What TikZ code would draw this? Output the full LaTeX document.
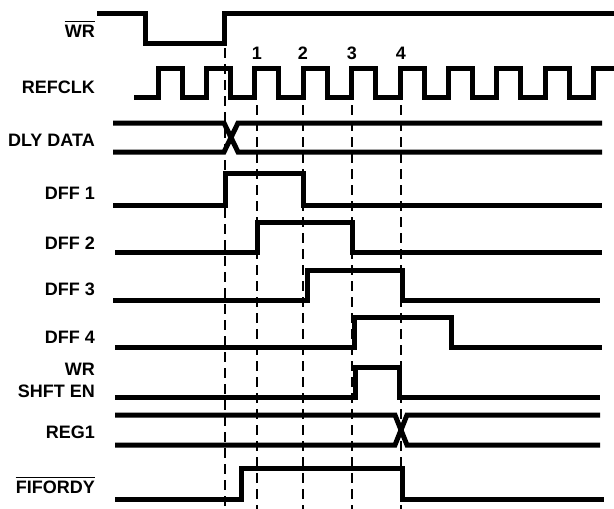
\documentclass[tikz,border=0pt]{standalone}
\usepackage{fontspec}
\setmainfont{Liberation Sans}
\begin{document}
\begin{tikzpicture}[x=1pt,y=-1pt,
  sig/.style={line width=5pt, line join=miter, line cap=butt},
  guide/.style={line width=2.6pt, dash pattern=on 10pt off 6pt},
  lbl/.style={anchor=east, inner sep=0pt, font=\fontsize{18}{21}\selectfont\bfseries},
  num/.style={inner sep=0pt, font=\fontsize{18}{21}\selectfont\bfseries},
  bar/.style={line width=1.5pt}]
\useasboundingbox[fill=white] (0,0) rectangle (614,509);
% guide lines
\draw[guide] (225,48) -- (225,509);
\foreach \gx in {257,303,352,401} \draw[guide] (\gx,105) -- (\gx,509);
% numbers
\node[num] (n1) at (257,53) {1};
\node[num] (n2) at (303,53) {2};
\node[num] (n3) at (352,53) {3};
\node[num] (n4) at (401,53) {4};
% labels
\node[lbl] (wr) at (95,31) {WR};
\draw[bar] ([yshift=3pt]wr.north west) -- ([yshift=3pt]wr.north east);
\node[lbl] (refclk) at (95,87) {REFCLK};
\node[lbl] (dly) at (95,140) {DLY DATA};
\node[lbl] (dff1) at (95,193) {DFF 1};
\node[lbl] (dff2) at (95,243) {DFF 2};
\node[lbl] (dff3) at (95,289) {DFF 3};
\node[lbl] (dff4) at (95,337) {DFF 4};
\node[lbl] (wr2) at (95,369) {WR};
\node[lbl] (shft) at (95,391) {SHFT EN};
\node[lbl] (reg1) at (95,432) {REG1};
\node[lbl] (fifordy) at (95,487) {FIFORDY};
\draw[bar] ([yshift=3pt]fifordy.north west) -- ([yshift=3pt]fifordy.north east);
% WR bar
\draw[sig] (97,13) -- (145,13) -- (145,43) -- (224,43) -- (224,13) -- (614,13);
% REFCLK
\draw[sig] (134,97) foreach \k in {0,...,8} { -- ({158+48.4*\k},97) -- ++(0,-29) -- ++(24,0) -- ++(0,29) } -- (593.6,97) -- (593.6,68) -- (614,68);
% DLY DATA
\draw[sig] (113,123) -- (224,123) -- (238,152) -- (602,152);
\draw[sig] (113,152) -- (224,152) -- (238,123) -- (602,123);
% DFF 1..4
\draw[sig] (113,205) -- (225,205) -- (225,173) -- (303,173) -- (303,205) -- (602,205);
\draw[sig] (115,252) -- (257,252) -- (257,222) -- (352,222) -- (352,252) -- (602,252);
\draw[sig] (113,300) -- (307,300) -- (307,270) -- (402,270) -- (402,300) -- (600,300);
\draw[sig] (115,347) -- (354,347) -- (354,317) -- (451,317) -- (451,347) -- (602,347);
% WR SHFT EN
\draw[sig] (115,397) -- (355,397) -- (355,367) -- (399,367) -- (399,397) -- (600,397);
% REG1
\draw[sig] (115,415) -- (395,415) -- (407,445) -- (600,445);
\draw[sig] (115,445) -- (395,445) -- (407,415) -- (600,415);
% FIFORDY
\draw[sig] (115,499) -- (241,499) -- (241,468) -- (402,468) -- (402,499) -- (604,499);
\end{tikzpicture}
\end{document}
